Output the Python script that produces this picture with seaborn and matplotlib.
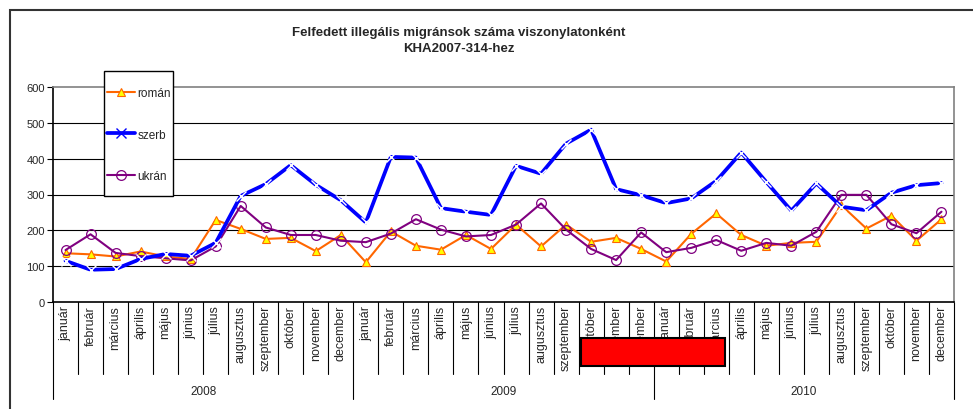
import numpy as np
import pandas as pd
import matplotlib
matplotlib.use("Agg")
import matplotlib.pyplot as plt
from matplotlib.patches import Rectangle
from matplotlib.lines import Line2D
import seaborn as sns

# Adatok (leolvasva a diagramról)
honapok = ['január', 'február', 'március', 'április', 'május', 'június', 'július',
           'augusztus', 'szeptember', 'október', 'november', 'december']
evek = ['2008', '2009', '2010']

roman = [136, 133, 127, 141, 127, 120, 229, 204, 176, 179, 142, 187,
         111, 197, 157, 146, 187, 148, 216, 155, 216, 168, 179, 148,
         113, 190, 247, 187, 157, 165, 168, 270, 205, 241, 171, 231]
szerb = [115, 90, 92, 120, 134, 129, 165, 296, 329, 382, 327, 284,
         222, 405, 403, 262, 252, 243, 380, 358, 442, 481, 315, 298,
         276, 289, 338, 417, 335, 255, 331, 266, 256, 305, 326, 332]
ukran = [145, 189, 137, 128, 122, 116, 155, 268, 208, 187, 187, 171,
         167, 191, 231, 202, 183, 187, 216, 275, 202, 148, 117, 194,
         139, 151, 173, 143, 165, 157, 196, 299, 299, 217, 192, 252]

sns.set_style("white")
plt.rcParams['font.family'] = ['Liberation Sans', 'DejaVu Sans']

W, H = 973, 410
fig = plt.figure(figsize=(W / 100, H / 100), dpi=100)
ax_l, ax_r, ax_t, ax_b = 53, 954, 88, 303
ax = fig.add_axes([ax_l / W, 1 - ax_b / H, (ax_r - ax_l) / W, (ax_b - ax_t) / H])

n = len(honapok) * len(evek)
df = pd.DataFrame({'idx': np.arange(n), 'román': roman, 'szerb': szerb, 'ukrán': ukran})

stilus = {
    'román': dict(color='#FF6600', linewidth=1.5, marker='^', markersize=6,
                  markerfacecolor='#FFFF00', markeredgecolor='#FF6600', markeredgewidth=0.8),
    'szerb': dict(color='#0000FF', linewidth=2.7, marker='x', markersize=7,
                  markeredgewidth=1.0),
    'ukrán': dict(color='#800080', linewidth=1.5, marker='o', markersize=7,
                  markerfacecolor='none', markeredgecolor='#800080', markeredgewidth=0.9),
}
for nev, st in stilus.items():
    sns.lineplot(data=df, x='idx', y=nev, ax=ax, legend=False,
                 zorder=4 if nev == 'szerb' else 3, **st)

ax.set_xlim(-0.5, n - 0.5)
ax.set_ylim(0, 600)
ax.set_yticks(range(0, 601, 100))
ax.set_yticklabels([str(v) for v in range(0, 601, 100)], fontsize=8)
ax.tick_params(axis='y', length=4, width=0.8, color='black', direction='out', pad=2, left=True)
ax.set_xticks([])
ax.set_xlabel('')
ax.set_ylabel('')
for v in range(100, 600, 100):
    ax.axhline(v, color='black', linewidth=0.8, zorder=1)

ax.spines['left'].set_color('black')
ax.spines['bottom'].set_color('black')
ax.spines['top'].set_color('#808080')
ax.spines['right'].set_color('#808080')
for s in ax.spines.values():
    s.set_linewidth(1.2)

# Kategória-tengely (hónapok + évek)
tr = ax.get_xaxis_transform()
h_ax = ax_b - ax_t
for i in range(n + 1):
    hossz = 97 if i % 12 == 0 else 72
    ax.plot([i - 0.5, i - 0.5], [0, -hossz / h_ax], transform=tr, color='black',
            linewidth=0.8, clip_on=False)
for i in range(n):
    ax.text(i, -3 / h_ax, honapok[i % 12], transform=tr, rotation=90, ha='center',
            va='top', fontsize=9)
for j, ev in enumerate(evek):
    ax.text(j * 12 + 5.5, -89 / h_ax, ev, transform=tr, ha='center', va='center', fontsize=8.5)

# Jelmagyarázat: külön keret + keret nélküli legenda
ax.add_patch(Rectangle((104 / W, 1 - 197 / H), 69 / W, 125 / H, transform=fig.transFigure,
                       facecolor='white', edgecolor='black', linewidth=1.0,
                       zorder=4.5, clip_on=False))
kezelok = [Line2D([], [], linestyle='-', **st) for st in stilus.values()]
leg = ax.legend(kezelok, list(stilus.keys()), loc='upper left',
                bbox_to_anchor=(107 / W, 1 - 88 / H),
                bbox_transform=fig.transFigure, fontsize=8.5, frameon=False,
                handlelength=2.4, handletextpad=0.2, labelspacing=2.5,
                borderpad=0, borderaxespad=0)
leg.set_zorder(5)

# Cím
fig.text(459 / W, 1 - 33 / H, 'Felfedett illegális migránsok száma viszonylatonként',
         ha='center', va='center', fontsize=9.5, fontweight='bold')
fig.text(459 / W, 1 - 49 / H, 'KHA2007-314-hez', ha='center', va='center',
         fontsize=9.5, fontweight='bold')

# Külső keret
fig.add_artist(Rectangle((10 / W, -0.2), 1.2, 1.2 - 11 / H, transform=fig.transFigure,
                         fill=False, edgecolor='#333333', linewidth=1.5))

# Piros takaró téglalap
fig.add_artist(Rectangle((581 / W, 1 - 367 / H), 144 / W, 28 / H, transform=fig.transFigure,
                         facecolor='#FF0000', edgecolor='black', linewidth=1.5, zorder=10))

fig.savefig('out.png', dpi=100)
